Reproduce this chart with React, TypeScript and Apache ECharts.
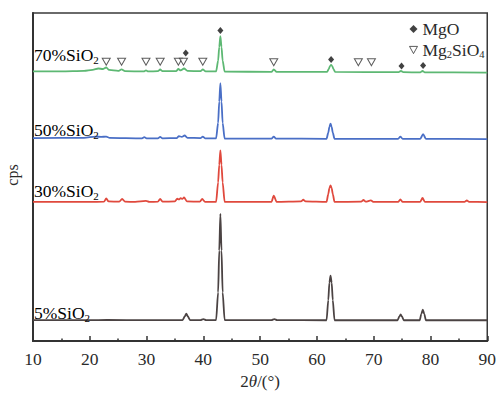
import React, { useEffect, useRef } from "react";
import * as echarts from "echarts";

// XRD patterns, [2θ (°), intensity (cps, vertically offset per sample)]
const pattern70: [number, number][] = [
  [10, 2770], [15, 2770], [19, 2775], [20.5, 2785], [21.5, 2800], [22.3, 2795], [22.9, 2810], [23.4, 2785],
  [25, 2775], [25.6, 2790], [26.2, 2772], [29.5, 2770], [29.9, 2780], [30.3, 2770], [32, 2772], [32.4, 2790],
  [32.8, 2772], [35.2, 2772], [35.6, 2795], [36.0, 2780], [36.6, 2800], [37.2, 2775], [39.5, 2772], [39.9, 2790],
  [40.4, 2770], [42.25, 2770], [42.6, 2880], [42.8, 3020], [43.0, 3133], [43.2, 3020], [43.4, 2880], [43.75, 2768],
  [52, 2765], [52.4, 2790], [52.9, 2765], [61.8, 2765], [62.1, 2795], [62.3, 2825], [62.5, 2838], [62.7, 2825],
  [62.9, 2795], [63.2, 2765], [74.4, 2762], [74.8, 2775], [75.2, 2762], [78.2, 2760], [78.6, 2775], [79.0, 2760],
  [90, 2758],
];

const pattern50: [number, number][] = [
  [10, 2085], [19, 2088], [21, 2100], [22, 2098], [22.9, 2100], [23.5, 2088], [29.2, 2083], [29.6, 2095],
  [30, 2083], [32, 2083], [32.4, 2098], [32.8, 2083], [35.3, 2085], [35.7, 2105], [36.2, 2098], [36.7, 2112],
  [37.2, 2088], [39.5, 2085], [39.9, 2100], [40.3, 2083], [42.25, 2083], [42.6, 2240], [42.8, 2460], [43.0, 2650],
  [43.2, 2460], [43.4, 2240], [43.75, 2080], [52, 2080], [52.4, 2100], [52.8, 2080], [61.7, 2078], [62.0, 2140],
  [62.2, 2200], [62.4, 2233], [62.6, 2200], [62.8, 2140], [63.1, 2078], [74.3, 2078], [74.7, 2100], [75.1, 2078],
  [78.2, 2078], [78.7, 2125], [79.2, 2078], [90, 2075],
];

const pattern30: [number, number][] = [
  [10, 1430], [20, 1430], [22.5, 1432], [22.9, 1465], [23.3, 1435], [25.2, 1432], [25.7, 1460], [26.2, 1432],
  [28, 1430], [29.9, 1440], [30.5, 1430], [32, 1432], [32.4, 1460], [32.8, 1432], [35, 1435], [35.4, 1462],
  [35.7, 1455], [36, 1468], [36.3, 1460], [36.6, 1475], [37.1, 1435], [39.4, 1432], [39.8, 1460], [40.3, 1430],
  [42.25, 1430], [42.6, 1630], [42.8, 1810], [43.0, 1960], [43.2, 1810], [43.4, 1630], [43.75, 1430], [52, 1430],
  [52.4, 1493], [52.9, 1430], [57.2, 1435], [57.6, 1452], [58, 1435], [61.7, 1430], [62.0, 1510], [62.2, 1570],
  [62.4, 1600], [62.6, 1570], [62.8, 1510], [63.1, 1430], [67.8, 1432], [68.2, 1450], [68.6, 1432], [69.5, 1445],
  [70, 1430], [74.3, 1430], [74.7, 1455], [75.1, 1430], [78.2, 1430], [78.6, 1470], [79.0, 1430], [86, 1430],
  [86.4, 1445], [86.8, 1430], [90, 1428],
];

const pattern5: [number, number][] = [
  [10, 215], [20, 215], [23, 217], [30, 215], [35, 216], [36.35, 216], [36.75, 255], [37.0, 283], [37.25, 255],
  [37.65, 216], [39.5, 216], [40, 225], [40.5, 216], [42.25, 216], [42.6, 500], [42.8, 930], [43.0, 1307],
  [43.2, 930], [43.4, 500], [43.75, 216], [52, 216], [52.5, 226], [53, 216], [61.7, 214], [62.0, 420],
  [62.2, 600], [62.4, 673], [62.6, 600], [62.8, 420], [63.1, 214], [74.2, 214], [74.5, 250], [74.75, 273],
  [75.0, 250], [75.3, 214], [78.1, 214], [78.4, 280], [78.65, 323], [78.9, 280], [79.2, 214], [90, 214],
];

// Phase markers above the 70% SiO2 pattern
const mgoMarks: [number, number][] = [
  [36.9, 2960], [43.0, 3190], [62.5, 2893], [74.9, 2825], [78.7, 2830],
];
const mg2sio4Marks: [number, number][] = [
  [22.9, 2870], [25.6, 2870], [29.9, 2870], [32.4, 2870], [35.6, 2870], [36.5, 2870], [39.9, 2870],
  [52.4, 2865], [67.3, 2865], [69.6, 2865],
];

const sampleLabels = [
  { pct: "70%", y: 56 },
  { pct: "50%", y: 131 },
  { pct: "30%", y: 192 },
  { pct: "5%", y: 314 },
];

const FONT = "'Liberation Serif', 'Times New Roman', serif";
const TEXT = "#2a2a2a";
const DOWN_TRIANGLE = "path://M0,0L10,0L5,9Z";

const subRich = {
  n: { fontFamily: FONT, fontSize: 17.5, color: TEXT, lineHeight: 20 },
  s: { fontFamily: FONT, fontSize: 11, color: TEXT, lineHeight: 11, verticalAlign: "bottom" as const },
};

export default function App() {
  const ref = useRef<HTMLDivElement>(null);

  useEffect(() => {
    if (!ref.current) return;
    const chart = echarts.init(ref.current, undefined, { renderer: "svg" });

    const lineSeries = (data: [number, number][], color: string) => ({
      type: "line" as const,
      data,
      symbol: "none",
      smooth: 0.25,
      smoothMonotone: "x" as const,
      lineStyle: { color, width: 1.8 },
      silent: true,
      z: 2,
    });

    chart.setOption({
      animation: false,
      backgroundColor: "#ffffff",
      grid: {
        left: 33,
        right: 9,
        top: 13,
        bottom: 45,
        show: true,
        borderColor: "#3a3a3a",
        borderWidth: 1.5,
        backgroundColor: "transparent",
      },
      legend: {
        left: 404,
        top: 15,
        orient: "vertical",
        itemWidth: 8,
        itemHeight: 8,
        itemGap: 3,
        data: [
          { name: "MgO" },
          {
            name: "Mg2SiO4",
            icon: DOWN_TRIANGLE,
            itemStyle: { color: "#ffffff", borderColor: "#333", borderWidth: 1 },
          },
        ],
        formatter: (name: string) =>
          name === "Mg2SiO4" ? "{n|Mg}{s|2}{n|SiO}{s|4}" : "{n|MgO}",
        textStyle: {
          rich: {
            n: { fontFamily: FONT, fontSize: 17.5, color: TEXT, lineHeight: 20 },
            s: { fontFamily: FONT, fontSize: 10.5, color: TEXT, lineHeight: 10, verticalAlign: "bottom" },
          },
        },
      },
      xAxis: {
        type: "value",
        min: 10,
        max: 90,
        interval: 10,
        name: "2{i|θ}/(°)",
        nameLocation: "middle",
        nameGap: 30,
        nameTextStyle: {
          fontFamily: FONT,
          fontSize: 17,
          color: TEXT,
          rich: { i: { fontFamily: FONT, fontSize: 17, fontStyle: "italic", color: TEXT } },
        },
        axisLine: { lineStyle: { color: "#333", width: 2 } },
        axisTick: { inside: true, length: 5, lineStyle: { color: "#333", width: 1.5 } },
        minorTick: { show: true, splitNumber: 2, length: 2.5, lineStyle: { color: "#333", width: 1.5 } },
        axisLabel: { margin: 9, fontFamily: FONT, fontSize: 17.5, color: TEXT },
        splitLine: { show: false },
      },
      yAxis: {
        type: "value",
        min: 0,
        max: 3370,
        axisLine: { show: true, lineStyle: { color: "#333", width: 2 } },
        axisTick: { show: false },
        axisLabel: { show: false },
        splitLine: { show: false },
      },
      series: [
        lineSeries(pattern5, "#4b4343"),
        lineSeries(pattern30, "#e0493d"),
        lineSeries(pattern50, "#4a6fc6"),
        lineSeries(pattern70, "#5db873"),
        {
          name: "MgO",
          type: "scatter",
          data: mgoMarks,
          symbol: "diamond",
          symbolSize: [6, 7],
          itemStyle: { color: "#111" },
          z: 4,
        },
        {
          name: "Mg2SiO4",
          type: "scatter",
          data: mg2sio4Marks,
          symbol: DOWN_TRIANGLE,
          symbolSize: [8, 7],
          itemStyle: { color: "#ffffff", borderColor: "#333", borderWidth: 1 },
          z: 4,
        },
      ],
      graphic: [
        // y-axis title
        {
          type: "text",
          x: 12,
          y: 175,
          rotation: Math.PI / 2,
          z: 10,
          style: {
            text: "cps",
            fontFamily: FONT,
            fontSize: 16,
            fill: TEXT,
            align: "center",
            verticalAlign: "middle",
          },
        },
        ...sampleLabels.map((l) => ({
          type: "text",
          left: 34,
          top: l.y - 10,
          z: 10,
          style: {
            text: `{n|${l.pct}SiO}{s|2}`,
            rich: subRich,
          },
        })),
      ],
    });

    return () => chart.dispose();
  }, []);

  return (
    <div
      ref={ref}
      style={{ position: "fixed", left: 0, top: 0, width: 499, height: 395 }}
    />
  );
}
